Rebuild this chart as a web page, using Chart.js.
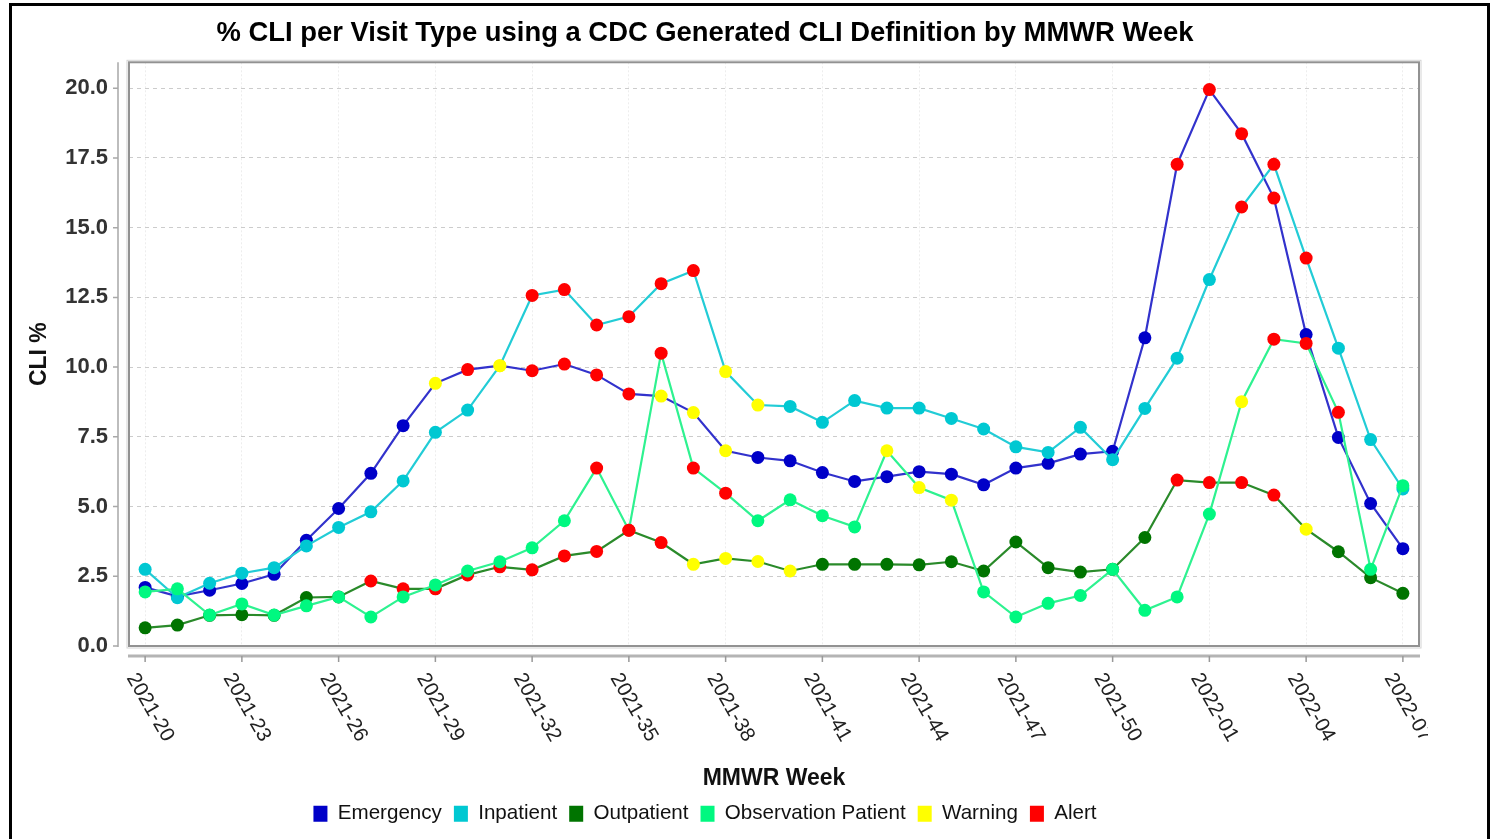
<!DOCTYPE html>
<html><head><meta charset="utf-8">
<script src="https://cdn.jsdelivr.net/npm/chart.js@4.4.0/dist/chart.umd.min.js"></script>
<style>
html,body{margin:0;padding:0;background:#fff;overflow:hidden;width:1497px;height:839px;}
#wrap{position:absolute;left:-9px;top:0;width:1437px;height:834px;}
#frame{position:absolute;left:9px;top:3px;width:1475px;height:900px;border-top:3px solid #000;border-left:3px solid #000;border-right:3px solid #000;pointer-events:none;}
</style></head><body>
<div id="wrap"><canvas id="c" width="1437" height="834"></canvas></div>
<div id="frame"></div>
<script>
const titleText = '% CLI per Visit Type using a CDC Generated CLI Definition by MMWR Week';
const weeks = ['2021-20','2021-21','2021-22','2021-23','2021-24','2021-25','2021-26','2021-27','2021-28','2021-29',
  '2021-30','2021-31','2021-32','2021-33','2021-34','2021-35','2021-36','2021-37','2021-38','2021-39',
  '2021-40','2021-41','2021-42','2021-43','2021-44','2021-45','2021-46','2021-47','2021-48','2021-49',
  '2021-50','2021-51','2021-52','2022-01','2022-02','2022-03','2022-04','2022-05','2022-06','2022-07'];
const yTicks = [0, 2.5, 5, 7.5, 10, 12.5, 15, 17.5, 20];

const emergency = [2.1,1.78,2.0,2.24,2.57,3.79,4.93,6.19,7.9,9.42, 9.91,10.05,9.87,10.11,9.72,9.04,8.96,8.37,7.0,6.76,
  6.64,6.22,5.9,6.07,6.25,6.16,5.78,6.38,6.55,6.88, 6.98,11.05,17.27,19.95,18.37,16.06,11.17,7.48,5.11,3.49];
const inpatient = [2.75,1.73,2.25,2.61,2.81,3.59,4.25,4.81,5.92,7.66, 8.46,10.05,12.57,12.78,11.51,11.81,12.99,13.46,9.84,8.64,
  8.59,8.02,8.8,8.53,8.53,8.16,7.78,7.14,6.94,7.84, 6.68,8.52,10.32,13.14,15.74,17.27,13.91,10.68,7.4,5.63];
const outpatient = [0.65,0.75,1.1,1.12,1.1,1.74,1.76,2.33,2.05,2.05, 2.55,2.84,2.73,3.23,3.39,4.15,3.71,2.93,3.14,3.03,
  2.69,2.93,2.93,2.93,2.91,3.02,2.69,3.73,2.81,2.65, 2.75,3.89,5.95,5.86,5.86,5.41,4.19,3.38,2.45,1.89];
const observation = [1.94,2.05,1.11,1.51,1.11,1.44,1.76,1.04,1.76,2.19, 2.69,3.02,3.52,4.49,6.38,4.15,10.5,6.38,5.48,4.49,
  5.24,4.67,4.27,7.0,5.68,5.23,1.94,1.04,1.53,1.81, 2.75,1.28,1.76,4.73,8.76,11.0,10.85,8.38,2.75,5.75];

// 0 = normal, 1 = warning, 2 = alert
const emergencyFlags = [0,0,0,0,0,0,0,0,0,1, 2,1,2,2,2,2,1,1,1,0, 0,0,0,0,0,0,0,0,0,0, 0,0,2,2,2,2,0,0,0,0];
const inpatientFlags = [0,0,0,0,0,0,0,0,0,0, 0,1,2,2,2,2,2,2,1,1, 0,0,0,0,0,0,0,0,0,0, 0,0,0,0,2,2,2,0,0,0];
const outpatientFlags = [0,0,0,0,0,0,0,2,2,2, 2,2,2,2,2,2,2,1,1,1, 1,0,0,0,0,0,0,0,0,0, 0,0,2,2,2,2,1,0,0,0];
const observationFlags = [0,0,0,0,0,0,0,0,0,0, 0,0,0,0,2,2,2,2,2,0, 0,0,0,1,1,1,0,0,0,0, 0,0,0,0,1,2,2,2,0,0];

const legendNames = ['Emergency','Inpatient','Outpatient','Observation Patient','Warning','Alert'];

const FONT = "'Liberation Sans', Arial, Helvetica, sans-serif";
const WARN = '#ffff00', ALERT = '#ff0000';
const legendColors = ['#0000c8', '#00c8d2', '#007400', '#00f880', WARN, ALERT];
const labelEvery = 3;

function flagColors(base, flags) {
  return flags.map(f => f === 2 ? ALERT : (f === 1 ? WARN : base));
}
function mk(label, data, flags, marker, line, order) {
  const pc = flagColors(marker, flags);
  return {
    label, data, order,
    borderColor: line, borderWidth: 2.2, backgroundColor: marker,
    pointBackgroundColor: pc, pointBorderColor: pc, pointBorderWidth: 0,
    pointRadius: 6.5, pointHoverRadius: 6.5, tension: 0, fill: false, clip: false
  };
}

const axesDecor = {
  id: 'axesDecor',
  afterDraw(chart) {
    const {ctx, chartArea: a, scales: {x, y}} = chart;
    ctx.save();
    ctx.strokeStyle = '#d4d4d4'; ctx.lineWidth = 1;
    ctx.strokeRect(a.left - 2, a.top - 2, a.right - a.left + 4, a.bottom - a.top + 4);
    ctx.strokeStyle = '#929292'; ctx.lineWidth = 2;
    ctx.strokeRect(a.left, a.top, a.right - a.left, a.bottom - a.top);
    // y axis line + ticks
    const yx = a.left - 11;
    ctx.strokeStyle = '#a8a8a8'; ctx.lineWidth = 1.5;
    ctx.beginPath();
    ctx.moveTo(yx, a.top); ctx.lineTo(yx, a.bottom + 1);
    yTicks.forEach(v => { const py = y.getPixelForValue(v); ctx.moveTo(yx - 5, py); ctx.lineTo(yx, py); });
    ctx.stroke();
    // x axis line + ticks
    const xy = a.bottom + 10;
    ctx.strokeStyle = '#b4b4b4'; ctx.lineWidth = 3;
    ctx.beginPath(); ctx.moveTo(a.left - 1, xy); ctx.lineTo(a.right + 1, xy); ctx.stroke();
    ctx.strokeStyle = '#999'; ctx.lineWidth = 1.5;
    ctx.beginPath();
    weeks.forEach((w, i) => {
      if (i % labelEvery) return;
      const px = x.getPixelForValue(i);
      ctx.moveTo(px, xy); ctx.lineTo(px, xy + 6);
    });
    ctx.stroke();
    // rotated tick labels
    ctx.fillStyle = '#222';
    ctx.font = '20.5px ' + FONT;
    ctx.textAlign = 'left'; ctx.textBaseline = 'middle';
    weeks.forEach((w, i) => {
      if (i % labelEvery) return;
      const px = x.getPixelForValue(i);
      ctx.save();
      ctx.translate(px - 14, a.bottom + 29);
      ctx.rotate(Math.PI / 3);
      ctx.fillText(w, 0, 0);
      ctx.restore();
    });
    ctx.restore();
  }
};

new Chart(document.getElementById('c'), {
  type: 'line',
  data: {
    labels: weeks,
    datasets: [
      mk('Emergency', emergency, emergencyFlags, '#0000c8', '#3232cc', 4),
      mk('Inpatient', inpatient, inpatientFlags, '#00c8d2', '#22ccd6', 3),
      mk('Outpatient', outpatient, outpatientFlags, '#007400', '#2a8a2a', 2),
      mk('Observation Patient', observation, observationFlags, '#00f880', '#2ef290', 1)
    ]
  },
  options: {
    responsive: false, animation: false, devicePixelRatio: 1,
    layout: {padding: {left: 0, right: 9, top: 0, bottom: 0}},
    plugins: {
      title: {display: true, text: titleText, color: '#000',
        font: {family: FONT, size: 27.4, weight: 'bold'}, padding: {top: 17, bottom: 12.4}},
      legend: {
        position: 'bottom', onClick: () => {},
        labels: {
          boxWidth: 14, boxHeight: 16, padding: 12, color: '#111',
          font: {family: FONT, size: 20.6},
          generateLabels: () => legendNames.map((t, i) => ({
            text: t, fillStyle: legendColors[i], strokeStyle: legendColors[i],
            lineWidth: 0, hidden: false, fontColor: '#111'
          }))
        }
      },
      tooltip: {enabled: false}
    },
    scales: {
      x: {
        offset: true,
        grid: {offset: false, drawTicks: false, lineWidth: 1,
          color: c => (c.index % labelEvery === 0) ? 'rgba(0,0,0,0.07)' : 'rgba(0,0,0,0)'},
        border: {display: false, dash: [2, 2]},
        ticks: {display: false},
        title: {display: true, text: 'MMWR Week', color: '#111',
          font: {family: FONT, size: 23, weight: 'bold', lineHeight: 0.9}, padding: {top: 0, bottom: 2}},
        afterFit: s => { s.height = 145.4; }
      },
      y: {
        min: 0, max: 20.93,
        afterBuildTicks: s => { s.ticks = yTicks.map(v => ({value: v})); },
        grid: {drawTicks: false, color: '#cccccc', lineWidth: 1},
        border: {display: false, dash: [4, 4]},
        ticks: {padding: 21, color: '#333', font: {family: FONT, size: 22, weight: 'bold'},
          callback: v => Number(v).toFixed(1)},
        title: {display: true, text: 'CLI %', color: '#111',
          font: {family: FONT, size: 23, weight: 'bold', lineHeight: 1}, padding: {top: 37.5, bottom: 0}},
        afterFit: s => { s.width = 138; }
      }
    }
  },
  plugins: [axesDecor]
});
</script>
</body></html>
